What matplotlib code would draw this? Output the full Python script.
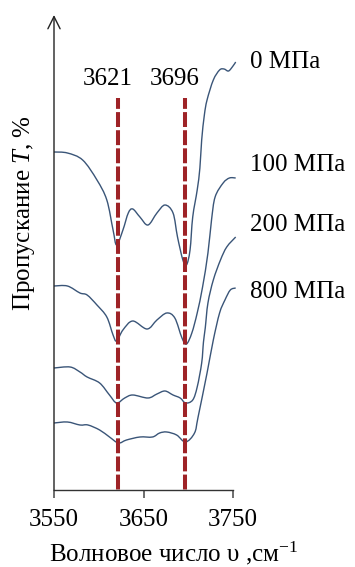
import matplotlib.pyplot as plt
from matplotlib.path import Path
from matplotlib.patches import PathPatch
import numpy as np

plt.rcParams['font.family'] = ['Liberation Serif', 'DejaVu Serif']
plt.rcParams['mathtext.fontset'] = 'custom'
plt.rcParams['mathtext.rm'] = 'Liberation Serif'
plt.rcParams['mathtext.it'] = 'Liberation Serif:italic'

# spectra (T in arbitrary units, offset per curve)
x0 = [3550, 3565, 3582, 3598, 3609, 3616, 3620, 3627, 3633, 3638, 3646, 3655,
      3665, 3674, 3683, 3688, 3694, 3698, 3702, 3705, 3710, 3713, 3715, 3718,
      3721, 3728, 3735, 3740, 3745, 3750, 3753]
t0 = [338, 337, 330, 310, 290, 260, 245, 260, 277, 281, 273, 265,
      277, 285, 277, 253, 230, 225, 240, 273, 300, 322, 350, 375,
      390, 410, 420, 421, 419, 424, 428]

x100 = [3550, 3565, 3579, 3587, 3598, 3609, 3616, 3620, 3627, 3638, 3654, 3665,
        3676, 3685, 3693, 3698, 3704, 3710, 3716, 3722, 3726, 3730, 3739, 3746,
        3753]
t100 = [204, 204, 197, 195, 185, 173, 155, 149, 160, 169, 161, 170,
        177, 172, 152, 146, 157, 177, 203, 237, 270, 293, 307, 312,
        312]

x200 = [3550, 3568, 3579, 3587, 3601, 3612, 3620, 3629, 3638, 3655, 3665, 3674,
        3683, 3691, 3697, 3705, 3710, 3715, 3717, 3719, 3722, 3728, 3736, 3743,
        3753]
t200 = [122, 123, 118, 113, 107, 95, 87, 92, 95, 92, 96, 99,
        95, 92, 87, 90, 103, 127, 148, 162, 187, 210, 230, 243,
        253]

x800 = [3550, 3565, 3579, 3588, 3601, 3612, 3622, 3631, 3646, 3660, 3668, 3676,
        3687, 3697, 3707, 3711, 3721, 3728, 3735, 3741, 3747, 3753]
t800 = [67, 68, 65, 65, 60, 53, 47, 50, 53, 53, 57, 58,
        55, 48, 57, 73, 117, 150, 177, 190, 200, 202]

labels = ['0 МПа', '100 МПа', '200 МПа', '800 МПа']
label_y = [428, 325, 265, 198]
peaks = [3621, 3696]


def smooth_path(xs, ys):
    # Catmull-Rom through the read points, drawn as cubic Bezier segments
    p = np.column_stack([xs, ys]).astype(float)
    p = np.vstack([p[0], p, p[-1]])
    verts = [p[1]]
    codes = [Path.MOVETO]
    for i in range(1, len(p) - 2):
        c1 = p[i] + (p[i + 1] - p[i - 1]) / 6
        c2 = p[i + 1] - (p[i + 2] - p[i]) / 6
        verts += [c1, c2, p[i + 1]]
        codes += [Path.CURVE4] * 3
    return Path(verts, codes)


def main():
    fig = plt.figure(figsize=(3.55, 5.67), dpi=100)
    ax = fig.add_axes([54 / 355, 77 / 567, 179 / 355, 475 / 567])

    line_col = '#3a5578'
    for xs, ts in [(x0, t0), (x100, t100), (x200, t200), (x800, t800)]:
        ax.add_patch(PathPatch(smooth_path(xs, ts), facecolor='none',
                               edgecolor=line_col, lw=1.0, clip_on=False))

    for p in peaks:
        ax.plot([p, p], [392, 0], color='#9e2327', lw=2.9,
                linestyle=(1.0, (3.7, 0.8)), clip_on=False)
        ax.text(p - 11, 411, str(p), ha='center', va='center', fontsize=18)

    for lab, y in zip(labels, label_y):
        ax.text(3769, y, lab, ha='left', va='center', fontsize=18,
                clip_on=False)

    ax.set_xlim(3550, 3750)
    ax.set_ylim(0, 475)
    ax.set_xticks([3550, 3650, 3750])
    ax.set_yticks([])
    ax.tick_params(axis='x', direction='out', length=6, width=1.2,
                   color='#555555', labelsize=18, pad=8)
    for s in ['top', 'right', 'left']:
        ax.spines[s].set_visible(False)
    ax.spines['bottom'].set_color('#333333')
    ax.spines['bottom'].set_linewidth(1.0)

    ax.annotate('', xy=(0, 1.0), xytext=(0, 0), xycoords='axes fraction',
                arrowprops=dict(arrowstyle='->', lw=1.0, color='#222222',
                                mutation_scale=22, shrinkA=0, shrinkB=0))

    fig.text(174 / 355, 1 - 561 / 567, 'Волновое число υ ,см$^{-1}$',
             ha='center', va='baseline', fontsize=18)
    fig.text(24 / 355, 1 - 213 / 567, 'Пропускание $T$, %', rotation=90,
             ha='center', va='center', fontsize=18)

    fig.savefig('out.png', dpi=100)


if __name__ == '__main__':
    main()
